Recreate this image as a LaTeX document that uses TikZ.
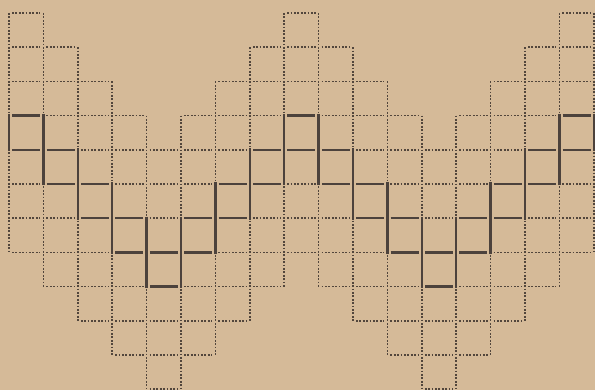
\documentclass[tikz,border=0pt]{standalone}
\definecolor{paper}{RGB}{213,186,152}
\definecolor{inkdot}{RGB}{82,70,60}
\definecolor{inksolid}{RGB}{76,66,60}
\begin{document}
\begin{tikzpicture}[x=1pt,y=1pt,
  dotline/.style={line width=1.6pt, draw=inkdot, dash pattern=on 1.8pt off 1.6pt},
  solidline/.style={line width=2.5pt, draw=inksolid}]
\fill[paper] (0,0) rectangle (595,390);
\useasboundingbox (0,0) rectangle (595,390);
% vertical lines: index k, solid span from row line a to row line b
\foreach \k/\a/\b in {0/3/4,1/3/5,2/4/6,3/5/7,4/6/8,5/6/8,6/5/7,7/4/6,8/3/5,9/3/5,10/4/6,11/5/7,12/6/8,13/6/8,14/5/7,15/4/6,16/3/5,17/3/4}{
  \pgfmathsetmacro\xx{9+34.4*\k}
  \pgfmathsetmacro\ya{377-34.2*(\a-3)}
  \pgfmathsetmacro\yb{377-34.2*\a}
  \pgfmathsetmacro\yc{377-34.2*\b}
  \pgfmathsetmacro\yd{377-34.2*(\b+3)}
  \draw[dotline] (\xx,\ya) -- (\xx,\yb+2.5);
  \draw[solidline] (\xx,\yb+1.5) -- (\xx,\yc-1.5);
  \draw[dotline] (\xx,\yc-2.5) -- (\xx,\yd);
}
% horizontal lines per column: column i, solid row r
\foreach \i/\r in {0/3,1/4,2/5,3/6,4/7,5/6,6/5,7/4,8/3,9/4,10/5,11/6,12/7,13/6,14/5,15/4,16/3}{
  \pgfmathsetmacro\xl{9+34.4*\i}
  \pgfmathsetmacro\xr{9+34.4*(\i+1)}
  \foreach \d in {-3,-2,-1,2,3,4}{
    \pgfmathsetmacro\yy{377-34.2*(\r+\d)}
    \draw[dotline] (\xl+3,\yy) -- (\xr-3,\yy);
  }
  \foreach \d in {0,1}{
    \pgfmathsetmacro\yy{377-34.2*(\r+\d)}
    \draw[solidline] (\xl+3.2,\yy) -- (\xr-3.2,\yy);
  }
}
\end{tikzpicture}
\end{document}
